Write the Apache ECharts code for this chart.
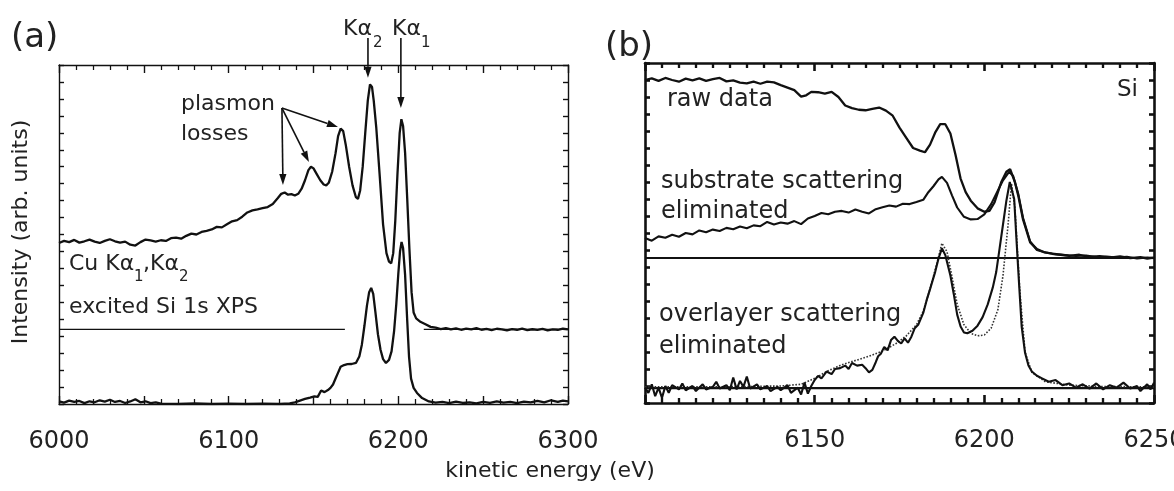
<!DOCTYPE html>
<html>
<head>
<meta charset="utf-8">
<script src="https://cdn.jsdelivr.net/npm/echarts@6/dist/echarts.min.js"></script>
<style>
  html, body { margin: 0; padding: 0; background: #fff; }
  #chart { width: 1174px; height: 491px; }
</style>
</head>
<body>
<div id="chart"></div>
<script>
// ---- data: [kinetic energy (eV), intensity (arb.)] ----

// panel (a): Cu Ka1,Ka2 excited Si 1s, raw spectrum (upper) and processed (lower)
const upperA = [
  [6000, 9.50], [6003, 9.62], [6006, 9.55], [6009, 9.68], [6012, 9.52], [6015, 9.60], [6018, 9.70],
  [6021, 9.58], [6024, 9.50], [6027, 9.62], [6030, 9.72], [6033, 9.60], [6036, 9.52], [6039, 9.58],
  [6042, 9.40], [6045, 9.35], [6048, 9.55], [6051, 9.70], [6054, 9.65], [6057, 9.58], [6060, 9.66],
  [6063, 9.62], [6066, 9.78], [6069, 9.82], [6072, 9.75], [6075, 9.92], [6078, 10.05], [6081, 10.0],
  [6084, 10.15], [6087, 10.22], [6090, 10.30], [6093, 10.45], [6096, 10.42], [6099, 10.60], [6102, 10.78],
  [6105, 10.85], [6108, 11.05], [6111, 11.30], [6114, 11.42], [6117, 11.48], [6120, 11.55], [6123, 11.62],
  [6126, 11.80], [6129, 12.15], [6131, 12.40], [6133, 12.48], [6135, 12.35], [6137, 12.38], [6139, 12.30],
  [6141, 12.40], [6143, 12.70], [6145, 13.20], [6147, 13.80], [6148.5, 14.0], [6150, 13.90], [6152, 13.55],
  [6154, 13.20], [6156, 12.95], [6157.5, 12.90], [6159, 13.05], [6161, 13.70], [6163, 14.80], [6164.5, 15.80],
  [6166, 16.25], [6167.5, 16.10], [6169, 15.30], [6171, 14.0], [6173, 12.90], [6175, 12.20], [6176.2, 12.10],
  [6177.5, 12.60], [6179, 14.0], [6180.5, 16.0], [6182, 17.90], [6183.3, 18.85], [6184.5, 18.70], [6185.5, 17.90],
  [6187, 16.30], [6189, 13.50], [6191, 10.60], [6193, 8.90], [6194.5, 8.40], [6195.8, 8.30], [6197, 8.90],
  [6198.2, 10.80], [6199.5, 13.60], [6200.8, 16.0], [6201.8, 16.80], [6202.8, 16.40], [6204, 14.80],
  [6205.2, 12.20], [6206.5, 9.20], [6207.8, 6.60], [6209, 5.40], [6210.5, 5.05], [6213, 4.85], [6216, 4.70],
  [6219, 4.55], [6222, 4.50], [6225, 4.42], [6228, 4.48], [6231, 4.40], [6234, 4.46], [6237, 4.38],
  [6240, 4.45], [6243, 4.40], [6246, 4.48], [6249, 4.38], [6252, 4.43], [6255, 4.36], [6258, 4.44],
  [6261, 4.40], [6264, 4.35], [6267, 4.42], [6270, 4.38], [6273, 4.45], [6276, 4.36], [6279, 4.41],
  [6282, 4.37], [6285, 4.43], [6288, 4.35], [6291, 4.40], [6294, 4.38], [6297, 4.44], [6300, 4.40]
]
const lowerA = [
  [6000, 0.15], [6003, 0.08], [6006, 0.20], [6009, 0.12], [6012, 0.18], [6015, 0.05], [6018, 0.16],
  [6021, 0.10], [6024, 0.22], [6027, 0.14], [6030, 0.25], [6033, 0.12], [6036, 0.18], [6039, 0.06],
  [6042, 0.15], [6045, 0.28], [6048, 0.10], [6051, 0.16], [6054, 0.05], [6057, 0.10], [6060, 0.02],
  [6070, 0.0], [6080, 0.03], [6090, 0.0], [6100, 0.02], [6110, 0.0], [6120, 0.02], [6130, 0.0],
  [6136, 0.03], [6139, 0.10], [6142, 0.20], [6145, 0.30], [6148, 0.38], [6150.5, 0.45], [6152.5, 0.42],
  [6154.5, 0.80], [6156.5, 0.70], [6158.5, 0.82], [6160, 0.95], [6161.5, 1.15], [6163, 1.50], [6164.5, 1.85],
  [6166, 2.20], [6168, 2.30], [6170, 2.35], [6172.5, 2.36], [6175, 2.42], [6177, 2.80], [6178.5, 3.50],
  [6180, 4.60], [6181.5, 5.80], [6182.8, 6.60], [6184, 6.85], [6185.2, 6.50], [6186.5, 5.40], [6188, 4.10],
  [6189.5, 3.20], [6191, 2.65], [6192.7, 2.42], [6194.5, 2.60], [6196, 3.10], [6197.5, 4.30], [6198.8, 5.90],
  [6200, 7.70], [6201, 9.0], [6201.9, 9.56], [6202.8, 9.20], [6204, 7.60], [6205.2, 5.0], [6206.3, 2.80],
  [6207.5, 1.50], [6209, 0.95], [6211, 0.65], [6214, 0.35], [6218, 0.15], [6222, 0.08], [6226, 0.12],
  [6230, 0.05], [6234, 0.14], [6238, 0.06], [6242, 0.10], [6246, 0.03], [6250, 0.12], [6254, 0.06],
  [6258, 0.15], [6262, 0.08], [6266, 0.12], [6270, 0.05], [6274, 0.14], [6278, 0.09], [6282, 0.18],
  [6286, 0.10], [6290, 0.22], [6294, 0.12], [6297, 0.20], [6300, 0.15]
]
// thin zero line of the upper spectrum (broken where the lower peaks pass)
const baseA = [[6000, 4.4], [6168.5, 4.4], [6190, '-'], [6215, 4.4], [6300, 4.4]]

// panel (b): Si
const rawB = [
  [6100, 19.0], [6102, 19.1], [6104, 18.95], [6106, 19.12], [6108, 19.0], [6110, 18.9], [6112, 19.08],
  [6114, 18.98], [6116, 19.1], [6118, 18.95], [6120, 19.05], [6122, 19.12], [6124, 18.92], [6126, 18.98],
  [6128, 18.85], [6130, 18.8], [6132, 18.9], [6134, 18.78], [6136, 18.9], [6138, 18.86], [6140, 18.7],
  [6142, 18.55], [6144, 18.4], [6146, 18.02], [6147.5, 18.1], [6149, 18.3], [6151, 18.28], [6153, 18.2],
  [6155, 18.3], [6157, 18.0], [6159, 17.5], [6161, 17.35], [6163, 17.25], [6165, 17.22], [6167, 17.3],
  [6169, 17.38], [6171, 17.2], [6173, 16.9], [6175, 16.2], [6177, 15.6], [6179, 15.0], [6181, 14.85],
  [6182.5, 14.75], [6184, 15.2], [6185.5, 15.9], [6187, 16.4], [6188.5, 16.4], [6190, 15.85], [6191.5, 14.6],
  [6193, 13.2], [6194.5, 12.4], [6196, 11.9], [6198, 11.45], [6200, 11.25], [6201.5, 11.3], [6203, 11.8],
  [6205, 13.0], [6206.5, 13.6], [6207.6, 13.76], [6209, 13.0], [6210, 12.2], [6211.4, 10.8], [6213.5, 9.45],
  [6215.5, 9.05], [6217.5, 8.88], [6220, 8.78], [6222.5, 8.72], [6225, 8.66], [6228, 8.72], [6231, 8.6],
  [6234, 8.64], [6237, 8.55], [6240, 8.62], [6243, 8.52], [6246, 8.58], [6248, 8.5], [6250, 8.55]
]
const substrateB = [
  [6100, 9.7], [6102, 9.55], [6104, 9.8], [6106, 9.72], [6108, 9.9], [6110, 9.78], [6112, 10.0],
  [6114, 9.92], [6116, 10.15], [6118, 10.05], [6120, 10.2], [6122, 10.12], [6124, 10.3], [6126, 10.22],
  [6128, 10.38], [6130, 10.28], [6132, 10.45], [6134, 10.4], [6136, 10.65], [6138, 10.5], [6140, 10.62],
  [6142, 10.55], [6144, 10.7], [6146, 10.52], [6148, 10.85], [6150, 11.0], [6152, 11.18], [6154, 11.1],
  [6156, 11.25], [6158, 11.3], [6160, 11.2], [6162, 11.38], [6164, 11.25], [6166, 11.15], [6168, 11.4],
  [6170, 11.52], [6172, 11.62], [6174, 11.55], [6176, 11.72], [6178, 11.7], [6180, 11.82], [6182, 11.95],
  [6183.5, 12.4], [6185, 12.75], [6186.5, 13.15], [6187.5, 13.3], [6189, 12.95], [6190.5, 12.2], [6192, 11.5],
  [6194, 10.95], [6196, 10.8], [6198, 10.82], [6200, 11.1], [6202, 11.7], [6204, 12.5], [6205.5, 13.1],
  [6207.3, 13.6], [6208.5, 13.35], [6210, 12.3], [6211.4, 10.9], [6213.5, 9.5], [6215.5, 9.0], [6218, 8.85],
  [6221, 8.75], [6224, 8.7], [6227, 8.65], [6230, 8.68], [6233, 8.58], [6236, 8.62], [6239, 8.55],
  [6242, 8.6], [6245, 8.5], [6248, 8.56], [6250, 8.52]
]
const overlayerB = [
  [6100, 0.9], [6101, 0.6], [6102, 1.1], [6103, 0.4], [6104, 0.9], [6105, 0.3], [6106, 1.0], [6107, 0.6],
  [6108, 1.05], [6110, 0.8], [6111, 1.15], [6112, 0.75], [6114, 1.0], [6115, 0.7], [6117, 1.1], [6118, 0.8],
  [6120, 0.95], [6121, 1.25], [6122, 0.85], [6124, 1.05], [6125, 0.75], [6126, 1.5], [6127, 0.8], [6128, 1.3],
  [6129, 0.95], [6130, 1.55], [6131, 0.85], [6133, 1.1], [6134, 0.8], [6136, 1.0], [6137, 0.7], [6139, 0.95],
  [6140, 0.75], [6142, 1.05], [6143, 0.6], [6145, 0.9], [6146, 0.5], [6147, 1.2], [6148, 0.55], [6149, 1.0],
  [6150, 1.35], [6151, 1.6], [6152, 1.45], [6153.5, 1.85], [6155, 1.7], [6156, 2.0], [6157.5, 2.05], [6159, 2.2],
  [6160, 2.0], [6161, 2.35], [6162.5, 2.2], [6164, 2.25], [6165, 2.05], [6166, 1.8], [6167, 1.95], [6168, 2.4],
  [6168.7, 2.75], [6169.5, 2.9], [6170.5, 3.3], [6171.5, 3.1], [6172.5, 3.7], [6173.5, 3.9], [6174.5, 3.65],
  [6175.5, 3.5], [6176.5, 3.8], [6177.5, 3.55], [6178.5, 3.9], [6179.5, 4.4], [6180.5, 4.6], [6182, 5.3],
  [6183, 6.05], [6184, 6.7], [6185.5, 7.7], [6186.5, 8.5], [6187.5, 9.1], [6188.5, 8.7], [6190, 7.5],
  [6191, 6.4], [6192, 5.2], [6193, 4.5], [6194, 4.15], [6195, 4.1], [6196.5, 4.25], [6198, 4.55],
  [6199.5, 5.05], [6201, 5.8], [6202.5, 6.8], [6203.5, 7.7], [6204.5, 9.1], [6205.5, 10.5], [6206.5, 11.9],
  [6207.5, 13.0], [6208, 13.1], [6208.8, 12.0], [6209.5, 9.5], [6210.3, 6.8], [6211, 4.5], [6212, 2.95],
  [6213, 2.2], [6214, 1.85], [6215.5, 1.6], [6217, 1.45], [6219, 1.25], [6221, 1.35], [6223, 1.05],
  [6225, 1.15], [6227, 0.9], [6229, 1.1], [6231, 0.85], [6233, 1.15], [6235, 0.8], [6237, 1.05], [6239, 0.9],
  [6241, 1.2], [6243, 0.85], [6245, 1.0], [6246, 0.7], [6248, 1.1], [6249, 0.8], [6250, 1.2]
]
// dotted fit through the overlayer-corrected spectrum
const fitB = [
  [6100, 0.95], [6110, 0.95], [6120, 0.95], [6130, 0.97], [6140, 1.0], [6146, 1.1], [6150, 1.45],
  [6154, 1.9], [6158, 2.25], [6162, 2.5], [6166, 2.75], [6170, 3.05], [6174, 3.5], [6177, 3.95],
  [6180, 4.6], [6182, 5.4], [6184, 6.7], [6186, 8.2], [6187.5, 9.4], [6189, 8.9], [6190.5, 7.4],
  [6192, 5.8], [6194, 4.6], [6196, 4.1], [6198, 3.95], [6200, 4.0], [6202, 4.4], [6204, 5.5],
  [6205.5, 7.5], [6207, 10.5], [6208, 12.9], [6209, 11.5], [6210.5, 6.5], [6212, 3.0], [6214, 1.8],
  [6218, 1.25], [6225, 1.05], [6235, 0.97], [6250, 0.95]
]
const baseB1 = [[6100, 8.53], [6250, 8.53]]
const baseB2 = [[6100, 0.88], [6250, 0.88]]

const tickLabelsA = [6000, 6100, 6200, 6300]
const tickLabelsB = [6150, 6200, 6250]

// annotation arrows in data units: [from, to]
const arrowsA = [
  [[6182.1, 21.6], [6182.1, 19.25]],   // K alpha 2
  [[6201.5, 21.6], [6201.5, 17.46]],   // K alpha 1
  [[6131.4, 17.46], [6132.0, 12.92]],  // plasmon losses
  [[6131.4, 17.46], [6147.3, 14.28]],
  [[6131.4, 17.46], [6164.4, 16.34]]
]

const FONT = 'DejaVu Sans'
const INK = '#111'
const chart = echarts.init(document.getElementById('chart'))

const xAxisCfg = (grid, min, max, minorSplit, labels, top, lw) => ({
  gridIndex: grid,
  type: 'value',
  min: min,
  max: max,
  interval: 50,
  position: top ? 'top' : 'bottom',
  axisLine: { onZero: false, lineStyle: { color: INK, width: lw } },
  axisTick: { inside: true, length: 8, lineStyle: { color: INK, width: lw } },
  minorTick: { show: true, splitNumber: minorSplit, length: 5, lineStyle: { color: INK, width: lw * 0.9 } },
  splitLine: { show: false },
  axisLabel: {
    show: !top,
    margin: 26,
    fontFamily: FONT,
    fontSize: 24,
    color: '#222',
    hideOverlap: false,
    formatter: (v) => (labels.includes(v) ? String(v) : '')
  }
})
const yAxisCfg = (grid, right, lw) => ({
  gridIndex: grid,
  type: 'value',
  min: 0,
  max: 20,
  interval: 1,
  position: right ? 'right' : 'left',
  axisLine: { show: true, onZero: false, lineStyle: { color: INK, width: lw } },
  axisTick: { inside: true, length: 5, lineStyle: { color: INK, width: lw } },
  axisLabel: { show: false },
  splitLine: { show: false }
})
const lineSeries = (xi, data, width, extra) => Object.assign({
  type: 'line',
  xAxisIndex: xi,
  yAxisIndex: xi,
  data: data,
  showSymbol: false,
  symbol: 'none',
  silent: true,
  lineStyle: { color: INK, width: width }
}, extra || {})

const options = {
  animation: false,
  backgroundColor: '#fff',
  grid: [
    { left: 59, top: 65, width: 509, height: 339, outerBoundsMode: 'none', containLabel: false },
    { left: 645, top: 63, width: 509, height: 340, outerBoundsMode: 'none', containLabel: false }
  ],
  xAxis: [
    xAxisCfg(0, 6000, 6300, 5, tickLabelsA, false, 1.4),
    xAxisCfg(0, 6000, 6300, 5, tickLabelsA, true, 1.4),
    xAxisCfg(1, 6100, 6250, 10, tickLabelsB, false, 2.6),
    xAxisCfg(1, 6100, 6250, 10, tickLabelsB, true, 2.6)
  ],
  yAxis: [
    yAxisCfg(0, false, 1.4),
    yAxisCfg(0, true, 1.4),
    yAxisCfg(1, false, 2.6),
    yAxisCfg(1, true, 2.6)
  ],
  series: [
    lineSeries(0, baseA, 1.2),
    lineSeries(0, upperA, 2.3),
    lineSeries(0, lowerA, 2.3),
    lineSeries(2, baseB1, 2.2),
    lineSeries(2, baseB2, 2.2),
    lineSeries(2, rawB, 2.3),
    lineSeries(2, substrateB, 2.1),
    lineSeries(2, fitB, 1.6, { lineStyle: { color: '#333', width: 1.6, type: 'dotted' } }),
    lineSeries(2, overlayerB, 2.1)
  ]
}
chart.setOption(options)

// ---- annotations: texts and arrows ----
const txt = (x, y, text, size, extra) => ({
  type: 'text',
  x: x,
  y: y,
  silent: true,
  style: Object.assign({
    text: text,
    font: size + 'px "' + FONT + '"',
    fill: '#222',
    align: 'left',
    verticalAlign: 'middle',
    textAlign: 'left',
    textVerticalAlign: 'middle'
  }, extra || {})
})

const arrow = (from, to) => {
  const p0 = chart.convertToPixel({ xAxisIndex: 0, yAxisIndex: 0 }, from)
  const p1 = chart.convertToPixel({ xAxisIndex: 0, yAxisIndex: 0 }, to)
  const dx = p1[0] - p0[0]
  const dy = p1[1] - p0[1]
  const len = Math.sqrt(dx * dx + dy * dy)
  const ux = dx / len
  const uy = dy / len
  const hl = 11
  const hw = 3.6
  const bx = p1[0] - ux * hl
  const by = p1[1] - uy * hl
  return [
    {
      type: 'line', silent: true,
      shape: { x1: p0[0], y1: p0[1], x2: bx, y2: by },
      style: { stroke: INK, lineWidth: 1.6 }
    },
    {
      type: 'polygon', silent: true,
      shape: { points: [[p1[0], p1[1]], [bx - uy * hw, by + ux * hw], [bx + uy * hw, by - ux * hw]] },
      style: { fill: INK }
    }
  ]
}

const graphics = [
  txt(11, 38, '(a)', 34),
  txt(343, 29, 'Kα', 22),
  txt(373, 43, '2', 15),
  txt(392, 29, 'Kα', 22),
  txt(421, 43, '1', 15),
  txt(181, 104, 'plasmon', 22),
  txt(181, 134, 'losses', 22),
  txt(69, 264, 'Cu Kα', 22),
  txt(134, 277, '1', 15),
  txt(143, 264, ',Kα', 22),
  txt(179, 277, '2', 15),
  txt(69, 307, 'excited Si 1s XPS', 22),
  txt(550, 471, 'kinetic energy (eV)', 22, { align: 'center', textAlign: 'center' }),
  Object.assign(txt(21, 232, 'Intensity (arb. units)', 22, { align: 'center', textAlign: 'center' }), { rotation: Math.PI / 2 }),
  txt(605, 47, '(b)', 34),
  txt(667, 100, 'raw data', 24),
  txt(661, 182, 'substrate scattering', 24),
  txt(661, 212, 'eliminated', 24),
  txt(659, 315, 'overlayer scattering', 24),
  txt(659, 347, 'eliminated', 24),
  txt(1117, 90, 'Si', 23)
]
arrowsA.forEach((a) => { graphics.push(...arrow(a[0], a[1])) })

chart.setOption({ graphic: { elements: graphics } })

window.addEventListener('resize', () => {
  chart.resize()
})
</script>
</body>
</html>
